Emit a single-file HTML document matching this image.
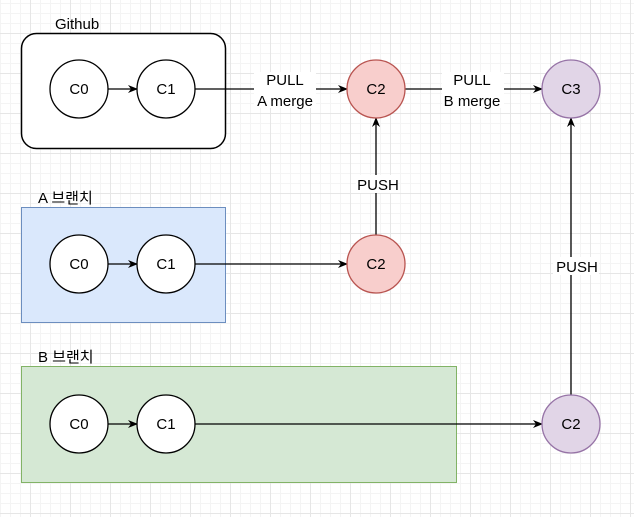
<!DOCTYPE html>
<html><head><style>
body{margin:0;width:634px;height:517px;overflow:hidden;background:#fff;
background-image:linear-gradient(#e6e6e6 1px,transparent 1px),linear-gradient(90deg,#e6e6e6 1px,transparent 1px),linear-gradient(#f4f4f4 1px,transparent 1px),linear-gradient(90deg,#f4f4f4 1px,transparent 1px);
background-size:40px 40px,40px 40px,10px 10px,10px 10px;background-position:-10px -7px}
svg{position:absolute;left:0;top:0}
text{font-family:"Liberation Sans","Noto Sans CJK KR",sans-serif;font-size:15px}
</style></head><body>
<svg width="634" height="517">
<defs><marker id="a" markerWidth="10" markerHeight="10" refX="9" refY="5" orient="auto" markerUnits="userSpaceOnUse"><path d="M0,1 L10,5 L0,9 L3,5Z" fill="#000"/></marker></defs>
<rect x="21.5" y="33.5" width="204" height="115" rx="15" fill="#fff" stroke="#000" stroke-width="1.5"/>
<rect x="21.5" y="207.5" width="204" height="115" fill="#dae8fc" stroke="#6c8ebf"/>
<rect x="21.5" y="366.5" width="435" height="116" fill="#d5e8d4" stroke="#82b366"/>
<text x="55" y="29">Github</text>
<text x="38" y="203">A 브랜치</text>
<text x="38" y="362">B 브랜치</text>
<g stroke="#000" stroke-width="1.3" fill="none">
<line x1="108" y1="89" x2="137" y2="89" marker-end="url(#a)"/>
<line x1="108" y1="264" x2="137" y2="264" marker-end="url(#a)"/>
<line x1="108" y1="424" x2="137" y2="424" marker-end="url(#a)"/>
<line x1="195" y1="89" x2="347" y2="89" marker-end="url(#a)"/>
<line x1="405" y1="89" x2="542" y2="89" marker-end="url(#a)"/>
<line x1="195" y1="264" x2="347" y2="264" marker-end="url(#a)"/>
<line x1="195" y1="424" x2="542" y2="424" marker-end="url(#a)"/>
<line x1="376" y1="235" x2="376" y2="118" marker-end="url(#a)"/>
<line x1="571" y1="395" x2="571" y2="118" marker-end="url(#a)"/>
</g>
<rect x="254" y="72" width="62" height="36" fill="#fff"/>
<rect x="442" y="72" width="62" height="36" fill="#fff"/>
<rect x="356" y="175" width="42" height="18" fill="#fff"/>
<rect x="553" y="257" width="46" height="18" fill="#fff"/>
<g text-anchor="middle">
<text x="285" y="85">PULL</text><text x="285" y="106">A merge</text>
<text x="472" y="85">PULL</text><text x="472" y="106">B merge</text>
<text x="378" y="190">PUSH</text>
<text x="577" y="272">PUSH</text>
</g>
<g stroke-width="1.3">
<circle cx="79" cy="89" r="29" fill="#fff" stroke="#000"/>
<circle cx="166" cy="89" r="29" fill="#fff" stroke="#000"/>
<circle cx="79" cy="264" r="29" fill="#fff" stroke="#000"/>
<circle cx="166" cy="264" r="29" fill="#fff" stroke="#000"/>
<circle cx="79" cy="424" r="29" fill="#fff" stroke="#000"/>
<circle cx="166" cy="424" r="29" fill="#fff" stroke="#000"/>
<circle cx="376" cy="89" r="29" fill="#f8cecc" stroke="#b85450"/>
<circle cx="376" cy="264" r="29" fill="#f8cecc" stroke="#b85450"/>
<circle cx="571" cy="89" r="29" fill="#e1d5e7" stroke="#9673a6"/>
<circle cx="571" cy="424" r="29" fill="#e1d5e7" stroke="#9673a6"/>
</g>
<g text-anchor="middle">
<text x="79" y="94">C0</text><text x="166" y="94">C1</text>
<text x="79" y="269">C0</text><text x="166" y="269">C1</text>
<text x="79" y="429">C0</text><text x="166" y="429">C1</text>
<text x="376" y="94">C2</text><text x="376" y="269">C2</text>
<text x="571" y="94">C3</text><text x="571" y="429">C2</text>
</g>
</svg>
</body></html>
